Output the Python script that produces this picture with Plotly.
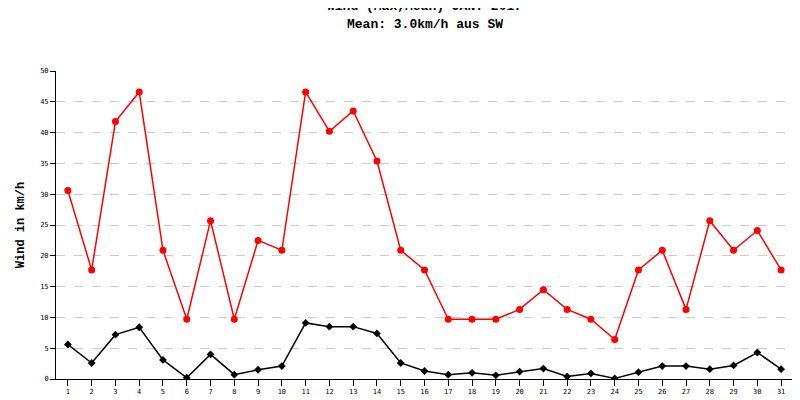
import plotly.graph_objects as go

days = list(range(1, 32))
wind_max = [30.6,17.7,41.8,46.6,20.9,9.7,25.7,9.7,22.5,20.9,46.6,40.2,43.5,35.4,20.9,17.7,9.7,9.7,9.7,11.3,14.5,11.3,9.7,6.4,17.7,20.9,11.3,25.7,20.9,24.1,17.7]
wind_mean = [5.6,2.6,7.2,8.4,3.1,0.2,4.0,0.7,1.5,2.1,9.1,8.5,8.5,7.4,2.6,1.3,0.7,1.0,0.6,1.2,1.7,0.4,0.9,0.1,1.1,2.1,2.1,1.6,2.2,4.3,1.6]
yticks = list(range(0, 55, 5))

fig = go.Figure()
fig.add_trace(go.Scatter(x=days, y=wind_max, mode="lines+markers",
    line=dict(color="#ff0000", width=1.5), marker=dict(symbol="circle", size=7, color="#ff0000")))
fig.add_trace(go.Scatter(x=days, y=wind_mean, mode="lines+markers",
    line=dict(color="#000000", width=1.5), marker=dict(symbol="diamond", size=6, color="#000000")))

fig.update_layout(
    width=800, height=400, showlegend=False,
    paper_bgcolor="white", plot_bgcolor="white",
    margin=dict(l=44, r=15, t=63, b=23),
    font=dict(family="DejaVu Sans Mono", size=8, color="black"),
)
fig.add_annotation(text="<b>Wind (Max,Mean) JAN. 2017</b>", xref="paper", yref="paper", x=0.5, y=1.18,
    xanchor="center", yanchor="bottom", showarrow=False, yshift=0,
    font=dict(family="Liberation Mono", size=13, color="black"))
fig.add_annotation(text="<b>Mean: 3.0km/h aus SW</b>", xref="paper", yref="paper", x=0.5, y=1.12,
    xanchor="center", yanchor="bottom", showarrow=False,
    font=dict(family="Liberation Mono", size=13, color="black"))
fig.update_xaxes(range=[0.5, 31.5], tickmode="array", tickvals=days, ticktext=[str(d) for d in days],
    showgrid=False, showline=True, linecolor="black", linewidth=1, mirror=False,
    ticks="outside", ticklen=6, tickcolor="black", tickfont=dict(size=7), zeroline=False)
fig.update_yaxes(range=[0, 50], tickmode="array", tickvals=yticks, ticktext=[str(v) for v in yticks],
    showgrid=True, gridcolor="#cccccc", griddash="dash", gridwidth=1,
    showline=True, linecolor="black", linewidth=1, mirror=True,
    ticks="outside", ticklen=5, tickcolor="black", tickfont=dict(size=7), zeroline=False,
    title=dict(text="<b>Wind in km/h</b>", font=dict(family="Liberation Mono", size=12), standoff=12))
fig.write_html("out.html")
